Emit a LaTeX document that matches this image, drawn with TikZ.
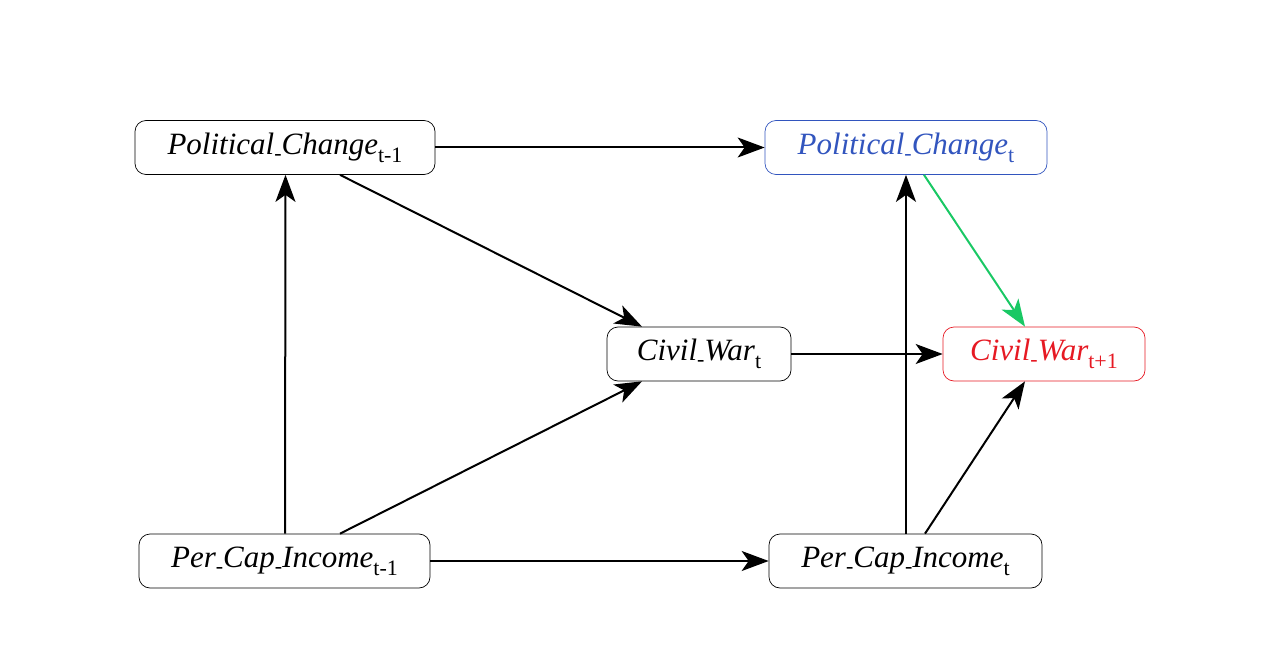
\documentclass[tikz,border=0pt]{standalone}
\usepackage{fontspec}
\setmainfont{Liberation Serif}
\usetikzlibrary{arrows.meta}
\definecolor{pcblue}{RGB}{50,85,190}
\definecolor{cwred}{RGB}{230,25,35}
\definecolor{edgegreen}{RGB}{25,200,100}
\newcommand{\us}{\raisebox{-6pt}{\fontsize{22}{22}\selectfont\upshape -}}
\newcommand{\sub}[1]{\raisebox{-8pt}{\fontsize{22}{22}\selectfont\upshape #1}}
\begin{document}
\begin{tikzpicture}[x=1pt,y=1pt,
  var/.style={draw, rounded corners=11pt, line width=0.7pt, inner sep=0pt,
    font=\fontsize{31}{34}\selectfont\itshape, minimum height=54pt},
  edge/.style={line width=2pt, -{Stealth[length=27pt,width=20pt,inset=7pt]}}]
\useasboundingbox (0,0) rectangle (1280,-658);
\node[var, minimum width=300pt] (pc1) at (285,-147.5) {Political\us Change\sub{t-1}};
\node[var, minimum width=282pt, draw=pcblue, text=pcblue] (pc) at (906,-147.5) {Political\us Change\sub{t}};
\node[var, minimum width=184pt] (cw) at (699,-354) {Civil\us War\sub{t}};
\node[var, minimum width=202pt, draw=cwred, text=cwred] (cw1) at (1044,-354) {Civil\us War\sub{t+1}};
\node[var, minimum width=291pt] (pci1) at (284.5,-561) {Per\us Cap\us Income\sub{t-1}};
\node[var, minimum width=273pt] (pci) at (905.5,-561) {Per\us Cap\us Income\sub{t}};
\draw[edge] (pc1.east) -- (pc.west);
\draw[edge] ([xshift=55pt]pc1.south) -- ([xshift=-57pt]cw.north);
\draw[edge] ([xshift=0.5pt]pci1.north) -- ([xshift=0.5pt]pc1.south);
\draw[edge] ([xshift=55.5pt]pci1.north) -- ([xshift=-57pt]cw.south);
\draw[edge] (pci1.east) -- (pci.west);
\draw[edge] (cw.east) -- (cw1.west);
\draw[edge] ([xshift=0.5pt]pci.north) -- (pc.south);
\draw[edge] ([xshift=19.5pt]pci.north) -- ([xshift=-19pt]cw1.south);
\draw[edge, draw=edgegreen, fill=edgegreen] ([xshift=18pt]pc.south) -- ([xshift=-19pt]cw1.north);
\end{tikzpicture}
\end{document}
